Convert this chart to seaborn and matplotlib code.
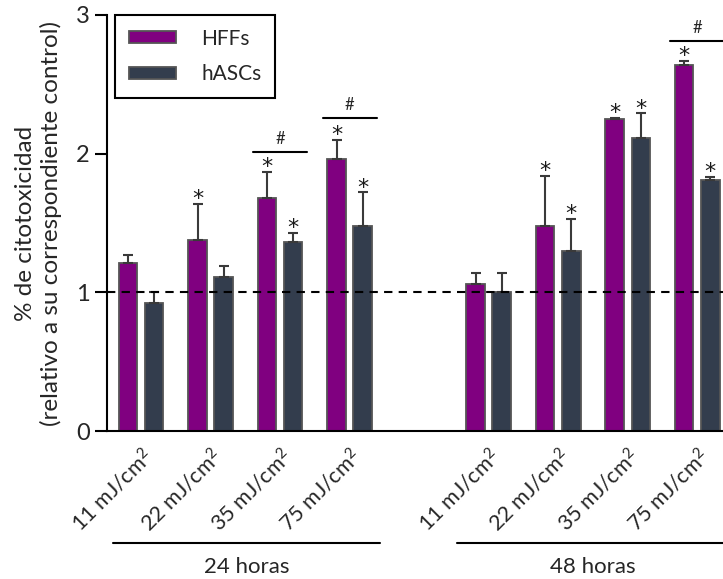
import numpy as np
import pandas as pd
import matplotlib
matplotlib.use("Agg")
import matplotlib.pyplot as plt
import seaborn as sns

# values
times = ["24 horas", "48 horas"]
doses = ["11", "22", "35", "75"]
hff_mean = [1.21, 1.38, 1.68, 1.96, 1.06, 1.48, 2.25, 2.64]
hff_err = [0.06, 0.26, 0.19, 0.14, 0.08, 0.36, 0.01, 0.03]
hasc_mean = [0.92, 1.11, 1.36, 1.475, 1.00, 1.30, 2.11, 1.81]
hasc_err = [0.08, 0.08, 0.07, 0.245, 0.14, 0.23, 0.18, 0.02]
hff_star = [0, 1, 1, 1, 0, 1, 1, 1]
hasc_star = [0, 0, 1, 1, 0, 1, 1, 1]
hash_idx = [2, 3, 7]
hash_level = [2.01, 2.26, 2.81]

cells = ["HFFs", "hASCs"]
colors = ["#800080", "#333d4d"]

sns.set_style("ticks")
plt.rcParams["font.family"] = ["Lato", "DejaVu Sans"]
plt.rcParams["mathtext.default"] = "regular"

conds = [f"{t}|{d}" for t in times for d in doses]
order = conds[:4] + ["gap"] + conds[4:]
pos = [order.index(c) for c in conds]

df = pd.DataFrame({
    "cond": conds * 2,
    "cell": ["HFFs"] * 8 + ["hASCs"] * 8,
    "value": hff_mean + hasc_mean,
})
errs = {"HFFs": hff_err, "hASCs": hasc_err}
stars = {"HFFs": hff_star, "hASCs": hasc_star}

fig = plt.figure(figsize=(7.23, 5.79), dpi=100)
ax = fig.add_axes([0.148, 0.2556, 0.852, 0.7185])

sns.barplot(data=df, x="cond", y="value", hue="cell", order=order,
            hue_order=cells, palette=colors, saturation=1, width=0.75,
            gap=0.29, errorbar=None, edgecolor="#555555", linewidth=1.3,
            ax=ax)

# error bars (upper only) and asterisks
for cell, cont in zip(cells, ax.containers):
    for bar in cont:
        cx = bar.get_x() + bar.get_width() / 2
        i = pos.index(int(round(cx)))
        h = bar.get_height()
        e = errs[cell][i]
        ax.errorbar(cx, h, yerr=[[0], [e]], fmt="none", ecolor="#3a3a3a",
                    elinewidth=1.5, capsize=3.5, capthick=1.5, zorder=3)
        if stars[cell][i]:
            ax.text(cx, h + e + 0.035, "*", ha="center", va="center",
                    fontsize=16, color="#1a1a1a", zorder=4,
                    family="DejaVu Sans")

# comparison bars HFFs vs hASCs
for i, lev in zip(hash_idx, hash_level):
    p = pos[i]
    ax.plot([p - 0.39, p + 0.39], [lev, lev], color="black", lw=1.5,
            clip_on=False)
    ax.text(p, lev + 0.035, "#", ha="center", va="bottom", fontsize=12)

ax.axhline(1, color="black", lw=1.5, ls=(0, (4, 3)), zorder=5)

ax.set_xlim(-0.49, 8.37)
ax.set_ylim(0, 3)
ax.set_yticks([0, 1, 2, 3])
ax.set_xticks(pos)
ax.set_xticklabels([f"{d} mJ/cm$^2$" for t in times for d in doses],
                   rotation=45, ha="right", rotation_mode="anchor",
                   fontsize=15.5)
ax.tick_params(axis="x", length=0, pad=10)
ax.tick_params(axis="y", length=9, width=1.5, labelsize=17, direction="out",
               color="black")
ax.set_xlabel("")
ax.set_ylabel("% de citotoxicidad\n(relativo a su correspondiente control)",
              fontsize=17.5, labelpad=10)
sns.despine(ax=ax)
for s in ["left", "bottom"]:
    ax.spines[s].set_linewidth(1.5)
    ax.spines[s].set_color("black")

# time group labels under the axis
trans = ax.get_xaxis_transform()
groups = [(-0.40, 3.44, 1.52, times[0]), (4.55, 8.6, 6.5, times[1])]
for x0, x1, xc, lab in groups:
    ax.plot([x0, x1], [-0.269, -0.269], color="black", lw=1.5,
            transform=trans, clip_on=False)
    ax.text(xc, -0.327, lab, transform=trans, ha="center", va="center",
            fontsize=16)

handles, labels = ax.get_legend_handles_labels()
leg = ax.legend(handles, labels, loc="upper left", bbox_to_anchor=(0.013, 1.0),
                borderaxespad=0, frameon=True, fancybox=False,
                edgecolor="black", framealpha=1, fontsize=15,
                handlelength=2.3, handleheight=0.5, labelspacing=0.75,
                borderpad=0.65, handletextpad=1.2)
leg.get_frame().set_linewidth(1.5)

fig.savefig("out.png", dpi=100)
